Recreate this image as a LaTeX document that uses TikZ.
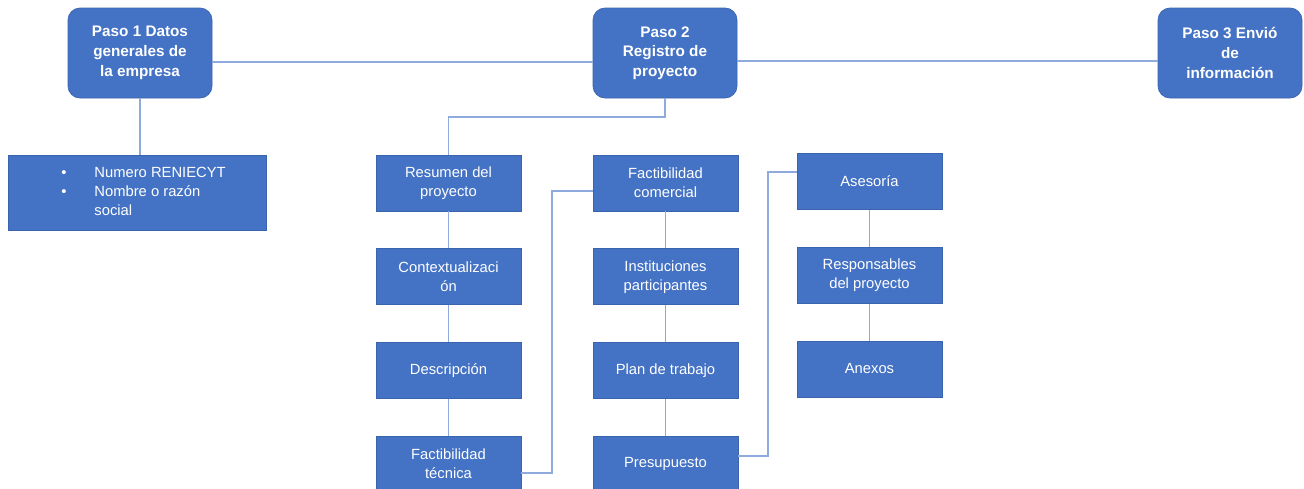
\documentclass[tikz,border=0pt]{standalone}
\usepackage{fontspec}
\setmainfont{Liberation Sans}
\usetikzlibrary{positioning}

\definecolor{boxblue}{HTML}{4472C4}
\definecolor{edgeblue}{HTML}{3A64AE}
\definecolor{lineblue}{HTML}{8FAADC}

\begin{document}
\begin{tikzpicture}[
  node distance=0.74cm,
  paso/.style={draw=edgeblue, fill=boxblue, rounded corners=0.24cm, minimum width=2.88cm, minimum height=1.8cm, inner sep=0pt, text=white, align=center, font=\fontsize{8.7}{11.2}\selectfont\bfseries},
  subbox/.style={draw=edgeblue, fill=boxblue, minimum width=2.9cm, minimum height=1.12cm, inner sep=0pt, text=white, align=center, font=\fontsize{8.4}{10.8}\selectfont},
  listbox/.style={draw=edgeblue, fill=boxblue, minimum width=5.16cm, minimum height=1.5cm, inner sep=0pt, text=white, font=\fontsize{8.4}{10.8}\selectfont},
  link/.style={draw=lineblue, line width=1.1pt}
]
\useasboundingbox (0,0) rectangle (26.08,-9.78);

% Pasos
\node[paso] (p1) at (2.8,-1.06) {Paso 1 Datos\\generales de\\la empresa};
\node[paso] (p2) at (13.3,-1.06) {Paso 2\\Registro de\\proyecto};
\node[paso] (p3) at (24.6,-1.06) {Paso 3 Envió\\de\\información};

\draw[link] ([yshift=-0.18cm]p1.east) -- ([yshift=-0.18cm]p2.west);
\draw[link] ([yshift=-0.16cm]p2.east) -- ([yshift=-0.16cm]p3.west);

% Datos de la empresa
\node[listbox] (datos) at (2.74,-3.85) {\hspace*{0.26cm}\begin{tabular}{@{}l@{\hspace{0.56cm}}l@{}}
  \textbullet & Numero RENIECYT\\
  \textbullet & Nombre o razón\\
  & social
\end{tabular}};
\draw[link] (p1.south) -- (p1.south |- datos.north);

% Registro de proyecto
\node[subbox] (res) at (8.97,-3.66) {Resumen del\\proyecto};
\node[subbox, below=of res] (ctx) {Contextualizaci\\ón};
\node[subbox, below=of ctx] (des) {Descripción};
\node[subbox, below=of des] (fte) {Factibilidad\\técnica};

\node[subbox] (fco) at (13.31,-3.66) {Factibilidad\\comercial};
\node[subbox, below=of fco] (ins) {Instituciones\\participantes};
\node[subbox, below=of ins] (pla) {Plan de trabajo};
\node[subbox, below=of pla] (pre) {Presupuesto};

\node[subbox] (ase) at (17.39,-3.63) {Asesoría};
\node[subbox, below=of ase] (rsp) {Responsables\\del proyecto};
\node[subbox, below=of rsp] (anx) {Anexos};

\draw[link] (p2.south) -- ++(0,-0.38) -| (res.north);
\foreach \a/\b in {res/ctx, ctx/des, des/fte, fco/ins, ins/pla, pla/pre, ase/rsp, rsp/anx}
  \draw[link] (\a) -- (\b);
\draw[link] ([yshift=-0.18cm]fte.east) -- ++(0.62,0) |- ([yshift=-0.16cm]fco.west);
\draw[link] ([yshift=0.16cm]pre.east) -- ++(0.6,0) |- ([yshift=0.19cm]ase.west);

\end{tikzpicture}
\end{document}
